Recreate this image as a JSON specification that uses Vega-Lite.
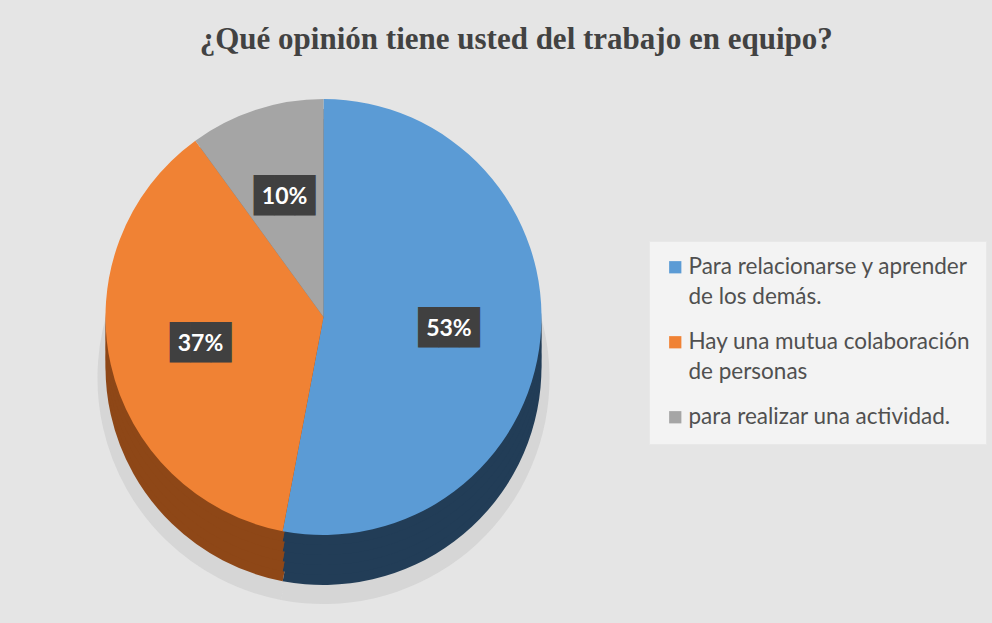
{
  "$schema": "https://vega.github.io/schema/vega-lite/v6.json",
  "autosize": {"type": "fit", "contains": "padding"},
  "width": 992,
  "height": 623,
  "padding": {"left": 10, "top": 24, "right": 5, "bottom": 5},
  "background": "#e5e5e5",
  "title": {
    "text": "¿Qué opinión tiene usted del trabajo en equipo?",
    "font": "Liberation Serif",
    "fontSize": 31,
    "fontWeight": "bold",
    "color": "#424242",
    "anchor": "middle",
    "frame": "bounds",
    "dx": 18,
    "offset": 10
  },
  "data": {
    "values": [
      {"categoria": "Para relacionarse y aprender de los demás.", "valor": 0.53, "orden": 1},
      {"categoria": "Hay una mutua colaboración de personas", "valor": 0.37, "orden": 2},
      {"categoria": "para realizar una actividad.", "valor": 0.10, "orden": 3}
    ]
  },
  "encoding": {
    "theta": {"field": "valor", "type": "quantitative", "stack": true},
    "order": {"field": "orden", "type": "ordinal"}
  },
  "layer": [
    {"mark": {"type": "arc", "radius": 226, "yOffset": 36, "fill": "#cbcbcb", "opacity": 0.6}},
    {"mark": {"type": "arc", "radius": 218, "yOffset": 25}, "encoding": {"fill": {"field": "orden", "type": "ordinal", "legend": null, "scale": {"domain": [1, 2, 3], "range": ["#223d57", "#8e4717", "#6f6f6f"]}}}},
    {"mark": {"type": "arc", "radius": 218, "yOffset": 15}, "encoding": {"fill": {"field": "orden", "type": "ordinal", "legend": null}}},
    {"mark": {"type": "arc", "radius": 218, "yOffset": 5}, "encoding": {"fill": {"field": "orden", "type": "ordinal", "legend": null}}},
    {"mark": {"type": "arc", "radius": 218, "yOffset": -5}, "encoding": {"fill": {"field": "orden", "type": "ordinal", "legend": null}}},
    {"mark": {"type": "arc", "radius": 218, "yOffset": -15}, "encoding": {"fill": {"field": "orden", "type": "ordinal", "legend": null}}},
    {
      "mark": {"type": "arc", "radius": 218, "yOffset": -25},
      "encoding": {
        "color": {
          "field": "categoria",
          "type": "nominal",
          "scale": {"domain": ["Para relacionarse y aprender de los demás.", "Hay una mutua colaboración de personas", "para realizar una actividad."], "range": ["#5b9bd5", "#f08234", "#a5a5a5"]},
          "legend": {
            "title": null,
            "orient": "right",
            "offset": 12,
            "padding": 15,
            "fillColor": "#f3f3f3",
            "strokeColor": "#e8e8e8",
            "symbolType": "square",
            "symbolSize": 150,
            "symbolStrokeWidth": 0,
            "labelFont": "Lato",
            "labelFontSize": 22.5,
            "labelColor": "#505050",
            "labelLimit": 400,
            "labelOffset": 2,
            "rowPadding": 22,
            "labelExpr": "datum.label == 'Para relacionarse y aprender de los demás.' ? ['Para relacionarse y aprender', 'de los demás.'] : datum.label == 'Hay una mutua colaboración de personas' ? ['Hay una mutua colaboración', 'de personas'] : datum.label",
            "encode": {"labels": {"update": {"lineHeight": {"value": 30}}}}
          }
        }
      }
    },
    {
      "mark": {"type": "text", "radius": 126, "yOffset": -25, "text": "███", "font": "DejaVu Sans Mono", "fontSize": 34, "color": "#404040", "baseline": "middle", "align": "center"}
    },
    {
      "mark": {"type": "text", "radius": 126, "yOffset": -25, "font": "Lato", "fontSize": 23, "fontWeight": "bold", "color": "white", "baseline": "middle", "align": "center"},
      "encoding": {"text": {"field": "valor", "type": "quantitative", "format": ".0%"}}
    }
  ],
  "config": {"view": {"stroke": null}, "legend": {"layout": {"right": {"anchor": "middle"}}}}
}
